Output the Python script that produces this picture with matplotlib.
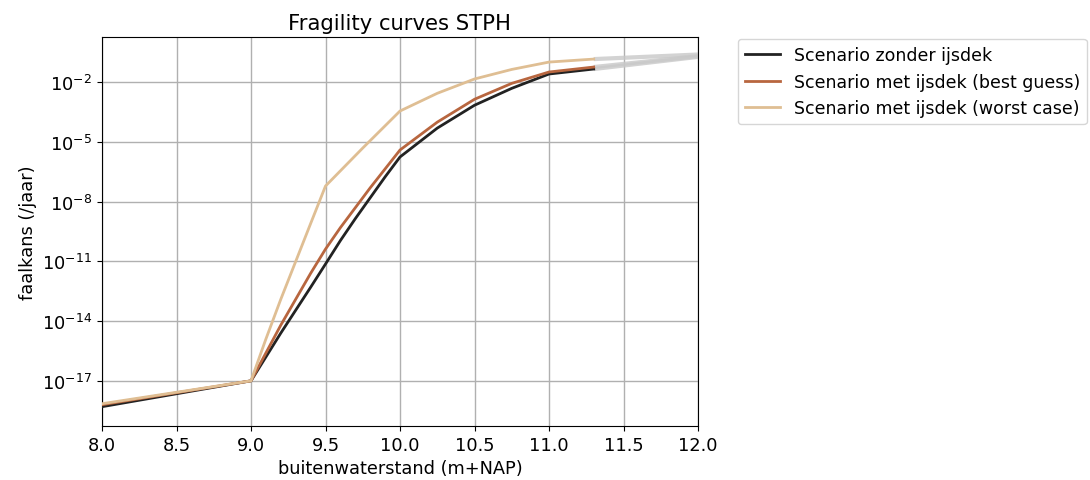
import numpy as np
import matplotlib
matplotlib.use("Agg")
import matplotlib.pyplot as plt
from matplotlib.ticker import FixedLocator, NullLocator

# water levels (m+NAP)
x_levels = [8.0, 9.0, 9.1, 9.2, 9.3, 9.4, 9.5, 9.6, 9.7, 9.8, 9.9, 10.0,
            10.25, 10.5, 10.75, 11.0, 11.3]
# log10 failure probability per scenario
log_zonder = [-18.3, -17.0, -15.8, -14.6, -13.45, -12.3, -11.13, -9.95, -8.85, -7.8, -6.75, -5.75,
              -4.3, -3.15, -2.3, -1.58, -1.33]
log_best = [-18.2, -17.0, -15.6, -14.2, -12.9, -11.6, -10.38, -9.3, -8.3, -7.3, -6.35, -5.4,
            -4.0, -2.85, -2.05, -1.48, -1.23]
x_worst = [8.0, 9.0, 9.1, 9.2, 9.3, 9.4, 9.5, 9.75, 10.0, 10.25, 10.5, 10.75, 11.0, 11.3]
log_worst = [-18.15, -17.0, -14.9, -12.9, -11.0, -9.1, -7.21, -5.3, -3.44, -2.55, -1.83, -1.35, -0.98, -0.83]
# grey extrapolation beyond the computed range
x_extra = [11.3, 12.0]
log_extra_zonder = [-1.33, -0.72]
log_extra_best = [-1.23, -0.68]
log_extra_worst = [-0.83, -0.6]

labels = ["Scenario zonder ijsdek", "Scenario met ijsdek (best guess)",
          "Scenario met ijsdek (worst case)"]
colors = ["#222222", "#b8663f", "#dfbe93"]

fs = 12.8

fig = plt.figure(figsize=(10.9, 4.81), dpi=100)
ax = fig.add_axes([102 / 1090, 1 - 427 / 481, (698 - 102) / 1090, (427 - 38) / 481])

for yy in (log_extra_zonder, log_extra_best, log_extra_worst):
    ax.plot(x_extra, 10 ** np.array(yy), color="#c8c8c8", lw=3, alpha=0.8,
            solid_capstyle="butt", zorder=2)

ax.plot(x_levels, 10 ** np.array(log_zonder), color=colors[0], lw=2, label=labels[0], zorder=3)
ax.plot(x_levels, 10 ** np.array(log_best), color=colors[1], lw=2, label=labels[1], zorder=3)
ax.plot(x_worst, 10 ** np.array(log_worst), color=colors[2], lw=2, label=labels[2], zorder=3)

ax.set_yscale("log")
ax.set_xlim(8.0, 12.0)
ax.set_ylim(10 ** -19.27, 10 ** 0.28)
ax.yaxis.set_major_locator(FixedLocator([10.0 ** k for k in range(-17, 0, 3)]))
ax.yaxis.set_minor_locator(NullLocator())
ax.set_xticks(np.arange(8.0, 12.01, 0.5))
ax.tick_params(labelsize=fs)
ax.grid(True, color="#b0b0b0", lw=1)
ax.set_axisbelow(True)

ax.set_title("Fragility curves STPH", fontsize=15.2)
ax.set_xlabel("buitenwaterstand (m+NAP)", fontsize=fs)
ax.set_ylabel("faalkans (/jaar)", fontsize=fs)

ax.legend(loc="upper left", bbox_to_anchor=(738 / 1090, 1 - 40 / 481),
          bbox_transform=fig.transFigure, borderaxespad=0, fontsize=12.5,
          handlelength=2.0, frameon=True)

fig.savefig("out.png", dpi=100)
